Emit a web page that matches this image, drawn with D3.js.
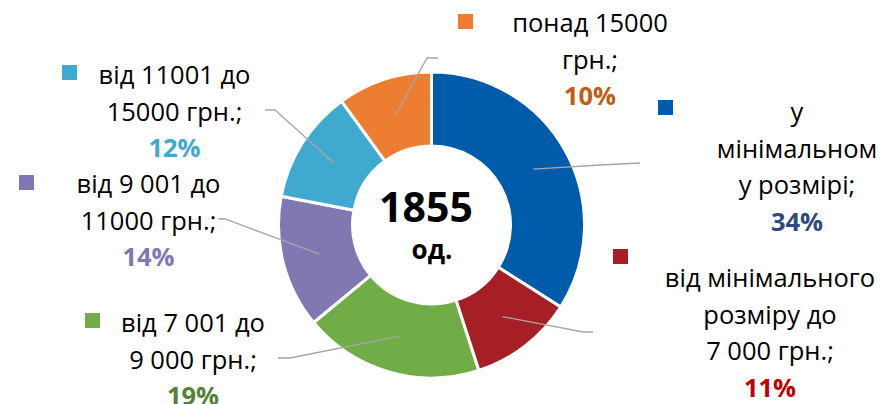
<!DOCTYPE html>
<html>
<head>
<meta charset="utf-8">
<script src="https://cdn.jsdelivr.net/npm/d3@7"></script>
<style>
  body { margin: 0; background: #fff; }
  svg text { font-family: "Open Sans", "Noto Sans", sans-serif; }
</style>
</head>
<body>
<svg id="chart"></svg>
<script>
// data
var categories = ["у мінімальному розмірі", "від мінімального розміру до 7 000 грн.", "від 7 001 до 9 000 грн.",
  "від 9 001 до 11000 грн.", "від 11001 до 15000 грн.", "понад 15000 грн."];
var labelLines = [
  ["у", "мінімальном", "у розмірі;"],
  ["від мінімального", "розміру до", "7 000 грн.;"],
  ["від 7 001 до", "9 000 грн.;"],
  ["від 9 001 до", "11000 грн.;"],
  ["від 11001 до", "15000 грн.;"],
  ["понад 15000", "грн.;"]
];
var percents = [34, 11, 19, 14, 12, 10];
var total = "1855";
var unit = "од.";

// styles
var sliceColors = ["#005BAA", "#A51F24", "#70AD47", "#7F78B3", "#3FA9CF", "#ED7D31"];
var pctColors = ["#2F4A7C", "#C00000", "#548235", "#8078B4", "#3FA9CF", "#C55A11"];

var width = 883, height = 404;
var cx = 431.5, cy = 225, outerR = 153, innerR = 79;

var svg = d3.select("#chart").attr("width", width).attr("height", height);

var pie = d3.pie().sort(null).value(function(d){ return d; });
var arc = d3.arc().innerRadius(innerR).outerRadius(outerR);
var arcs = pie(percents);

var g = svg.append("g").attr("transform", "translate(" + cx + "," + cy + ")");
g.selectAll("path.slice").data(arcs).enter().append("path")
  .attr("class", "slice")
  .attr("d", arc)
  .attr("fill", function(d, i){ return sliceColors[i]; })
  .attr("stroke", "#fff")
  .attr("stroke-width", 3);

// label layout: text centre x, first baseline, square, leader elbow + end
var layout = [
  { tx: 797, ty: 121, sq: [658, 100], elbow: [600, 165], end: [640, 163] },
  { tx: 770, ty: 287, sq: [613, 249], elbow: [583, 332], end: [593, 332] },
  { tx: 193, ty: 332, sq: [85, 313], elbow: [290, 358], end: [278, 358] },
  { tx: 148.5, ty: 193, sq: [19, 175], elbow: [225, 219], end: [218, 219] },
  { tx: 174.5, ty: 84, sq: [62, 65], elbow: [275, 110], end: [265, 110] },
  { tx: 590, ty: 32, sq: [458, 14], elbow: [427, 58], end: [438, 58] }
];
var lineH = 36.5;

// leader lines
var line = d3.line();
arcs.forEach(function(d, i){
  var c = arc.centroid(d);
  var L = layout[i];
  svg.append("path")
    .attr("d", line([[cx + c[0], cy + c[1]], L.elbow, L.end]))
    .attr("fill", "none")
    .attr("stroke", "#A6A6A6")
    .attr("stroke-width", 1.3);
});

// labels
labelLines.forEach(function(lines, i){
  var L = layout[i];
  svg.append("rect")
    .attr("x", L.sq[0]).attr("y", L.sq[1])
    .attr("width", 15).attr("height", 15)
    .attr("fill", sliceColors[i]);
  var t = svg.append("text")
    .attr("text-anchor", "middle")
    .attr("font-size", 25.5)
    .attr("fill", "#000");
  lines.forEach(function(s, k){
    t.append("tspan").attr("x", L.tx).attr("y", L.ty + k * lineH).text(s);
  });
  t.append("tspan")
    .attr("x", L.tx).attr("y", L.ty + lines.length * lineH)
    .attr("font-weight", "bold")
    .attr("fill", pctColors[i])
    .text(percents[i] + "%");
});

// centre text
svg.append("text")
  .attr("x", 426).attr("y", 222)
  .attr("text-anchor", "middle")
  .attr("font-size", 41).attr("font-weight", "bold")
  .text(total);
svg.append("text")
  .attr("x", 432).attr("y", 259)
  .attr("text-anchor", "middle")
  .attr("font-size", 26).attr("font-weight", "bold")
  .text(unit);
</script>
</body>
</html>
